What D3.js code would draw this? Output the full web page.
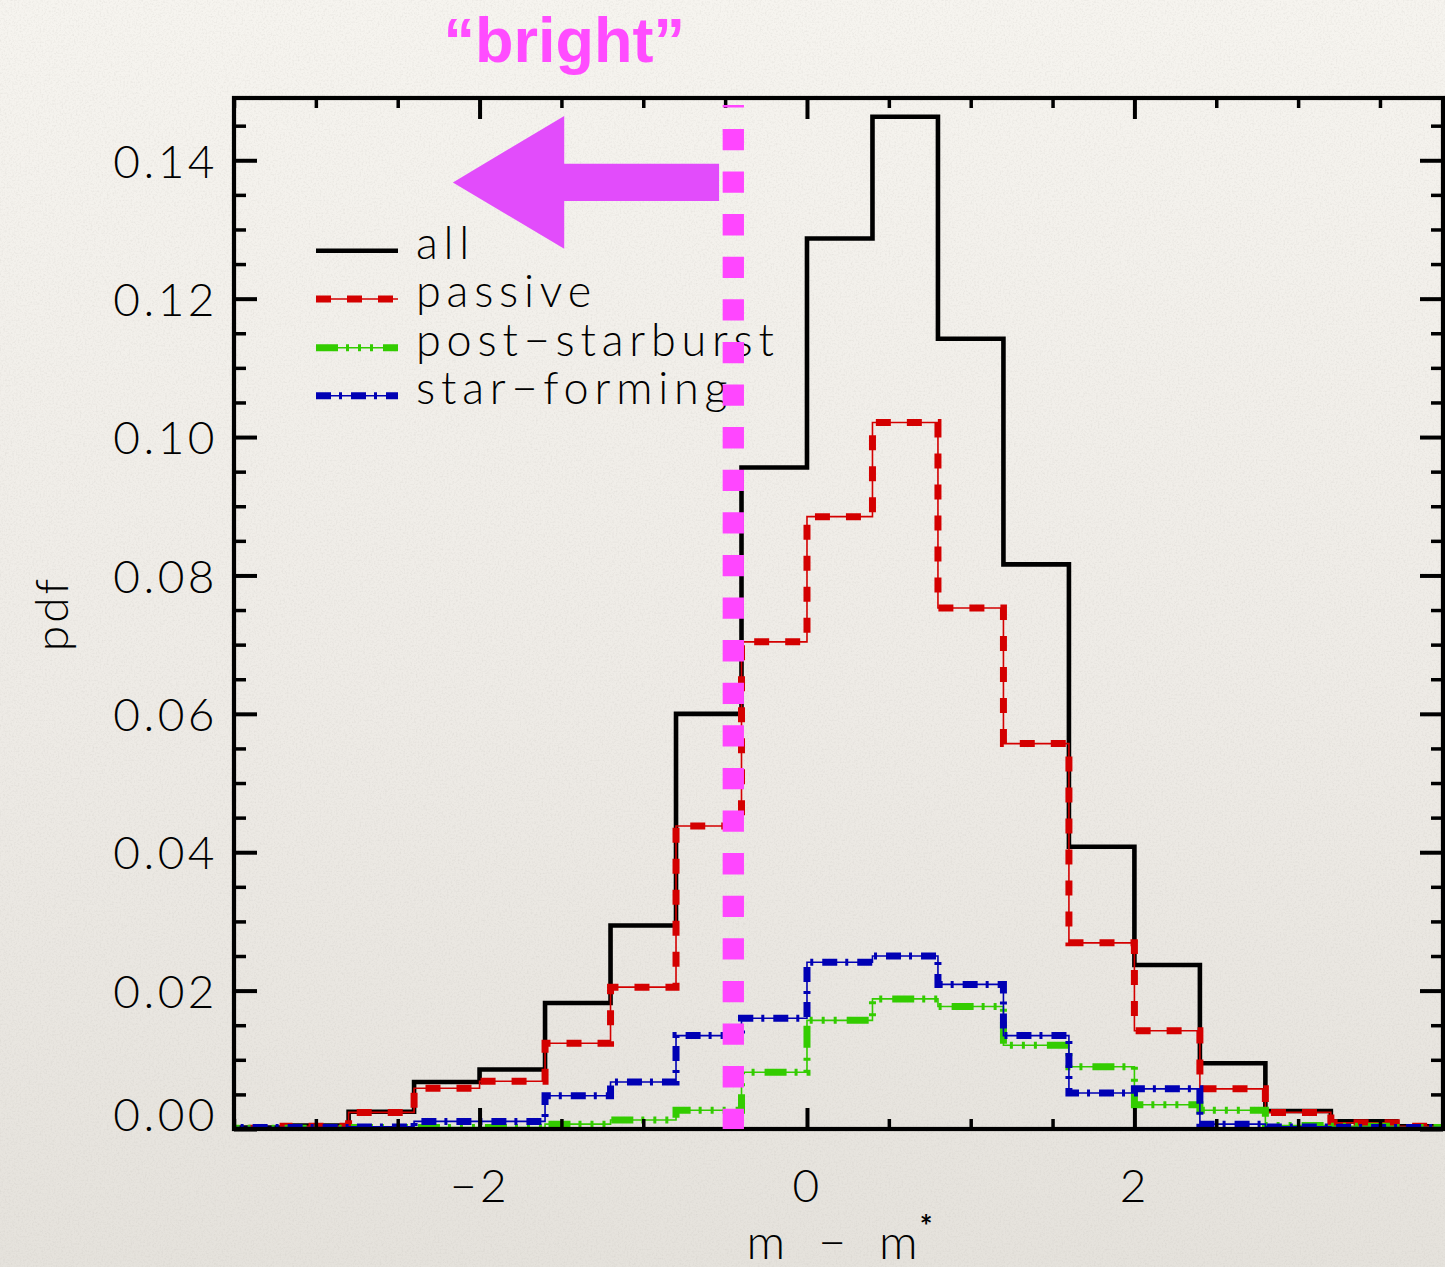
<!DOCTYPE html>
<html>
<head>
<meta charset="utf-8">
<script src="https://cdn.jsdelivr.net/npm/d3@7"></script>
<style>
  html, body { margin: 0; padding: 0; background: #efece7; }
  svg { display: block; }
</style>
</head>
<body>
<svg id="chart" width="1445" height="1267"></svg>
<script>
// Histogram bins: left edges of 0.4-mag bins in m - m*
const binEdges = [-3.6, -3.2, -2.8, -2.4, -2.0, -1.6, -1.2, -0.8, -0.4, 0.0, 0.4, 0.8, 1.2, 1.6, 2.0, 2.4, 2.8, 3.2, 3.6, 4.0];

// pdf per bin for each galaxy class
const allPdf       = [0.0002, 0.0005, 0.0025, 0.0068, 0.0086, 0.0182, 0.0294, 0.0600, 0.0956, 0.1287, 0.1463, 0.1142, 0.0816, 0.0408, 0.0237, 0.0095, 0.0026, 0.0011, 0.0004];
const passivePdf   = [0.0001, 0.0004, 0.0024, 0.0059, 0.0069, 0.0124, 0.0205, 0.0438, 0.0704, 0.0885, 0.1021, 0.0753, 0.0557, 0.0269, 0.0142, 0.0058, 0.0024, 0.0009, 0.0004];
const postSbPdf    = [0.0001, 0.0001, 0.0002, 0.0002, 0.0002, 0.0007, 0.0013, 0.0027, 0.0082, 0.0157, 0.0188, 0.0177, 0.0121, 0.0090, 0.0035, 0.0027, 0.0005, 0.0004, 0.0002];
const starFormPdf  = [0.0002, 0.0002, 0.0003, 0.0011, 0.0011, 0.0048, 0.0068, 0.0135, 0.0160, 0.0241, 0.0250, 0.0209, 0.0135, 0.0052, 0.0058, 0.0007, 0.0003, 0.0002, 0.0002];

const seriesNames = ["all", "passive", "post\u2212starburst", "star\u2212forming"];

// Axis ticks
const xMajorTicks = [-2, 0, 2];
const xMinorTicks = [-3.5, -3, -2.5, -1.5, -1, -0.5, 0.5, 1, 1.5, 2.5, 3, 3.5];
const yMajorTicks = [0, 0.02, 0.04, 0.06, 0.08, 0.10, 0.12, 0.14];
const yMinorTicks = [0.005, 0.01, 0.015, 0.025, 0.03, 0.035, 0.045, 0.05, 0.055, 0.065, 0.07, 0.075,
                     0.085, 0.09, 0.095, 0.105, 0.11, 0.115, 0.125, 0.13, 0.135, 0.145];

// Magnitude cut marking the "bright" sample
const brightCut = -0.45;
// Arrow annotation in data units: tip, head base, tail
const arrowTipX = -2.163, arrowHeadX = -1.483, arrowTailX = -0.537;
const arrowY = 0.1368, arrowHeadHalf = 0.0096, arrowShaftHalf = 0.0027;

const W = 1445, H = 1267;
const plot = { left: 234, right: 1443, top: 98, bottom: 1129 };
const FONT = "Lato, 'Open Sans', 'DejaVu Sans', sans-serif";

const svg = d3.select("#chart");
const defs = svg.append("defs");

// paper background
const grad = defs.append("linearGradient").attr("id", "paper").attr("x1", 0).attr("y1", 0).attr("x2", 0).attr("y2", 1);
grad.append("stop").attr("offset", "0%").attr("stop-color", "#f6f4ef");
grad.append("stop").attr("offset", "55%").attr("stop-color", "#eeebe6");
grad.append("stop").attr("offset", "100%").attr("stop-color", "#e5e2dc");
const grain = defs.append("filter").attr("id", "grain").attr("x", 0).attr("y", 0).attr("width", 1).attr("height", 1);
grain.append("feTurbulence").attr("type", "fractalNoise").attr("baseFrequency", 0.55).attr("numOctaves", 3).attr("seed", 4);
grain.append("feColorMatrix").attr("type", "matrix")
  .attr("values", "0 0 0 0 0.45  0 0 0 0 0.43  0 0 0 0 0.40  0 0 0 -1.1 0.62");
svg.append("rect").attr("width", W).attr("height", H).attr("fill", "url(#paper)");
svg.append("rect").attr("width", W).attr("height", H).attr("filter", "url(#grain)").attr("opacity", 0.35);

defs.append("clipPath").attr("id", "plotClip").append("rect")
  .attr("x", plot.left).attr("y", plot.top)
  .attr("width", plot.right - plot.left).attr("height", plot.bottom - plot.top);

const x = d3.scaleLinear().domain([-3.5, 3.885]).range([plot.left, plot.right]);
const y = d3.scaleLinear().domain([0, 0.149]).range([plot.bottom, plot.top]);

// step line through bin edges
const stepLine = d3.line().x(d => x(d[0])).y(d => y(d[1])).curve(d3.curveStepAfter);
function stepPoints(vals) {
  const pts = vals.map((v, i) => [binEdges[i], v]);
  pts.push([binEdges[vals.length], vals[vals.length - 1]]);
  return pts;
}

const styles = [
  { vals: allPdf,      color: "#000000", width: 4.6, dash: null, thin: false },
  { vals: passivePdf,  color: "#d40000", width: 7, dash: "15,16", thin: true },
  { vals: postSbPdf,   color: "#33cc00", width: 7, dash: "22,8,3,9,3,9,3,10", thin: true },
  { vals: starFormPdf, color: "#0000b4", width: 7, dash: "15,8,3,9", thin: true }
];

const lines = svg.append("g").attr("clip-path", "url(#plotClip)");
styles.forEach(s => {
  const pts = stepPoints(s.vals);
  if (s.thin) {
    lines.append("path").attr("d", stepLine(pts)).attr("fill", "none")
      .attr("stroke", s.color).attr("stroke-width", 1.6);
  }
  lines.append("path").attr("d", stepLine(pts)).attr("fill", "none")
    .attr("stroke", s.color).attr("stroke-width", s.width)
    .attr("stroke-dasharray", s.dash)
    .attr("stroke-linejoin", "miter").attr("stroke-linecap", "butt");
});

// arrow pointing to brighter magnitudes
const arrowPts = [
  [arrowTipX, arrowY],
  [arrowHeadX, arrowY + arrowHeadHalf],
  [arrowHeadX, arrowY + arrowShaftHalf],
  [arrowTailX, arrowY + arrowShaftHalf],
  [arrowTailX, arrowY - arrowShaftHalf],
  [arrowHeadX, arrowY - arrowShaftHalf],
  [arrowHeadX, arrowY - arrowHeadHalf]
];
svg.append("polygon")
  .attr("points", arrowPts.map(p => [x(p[0]), y(p[1])].join(",")).join(" "))
  .attr("fill", "#e24cfb");

svg.append("text")
  .attr("x", x(arrowHeadX)).attr("y", 62)
  .attr("text-anchor", "middle")
  .attr("font-family", "'Liberation Sans', Arial, Helvetica, sans-serif")
  .attr("font-weight", "bold").attr("font-size", 63)
  .attr("fill", "#ff4cff")
  .text("\u201Cbright\u201D");

// axes
function styleAxis(g) {
  g.select(".domain").remove();
  g.selectAll(".tick line").attr("stroke", "#000");
  g.selectAll("text").attr("font-family", FONT).attr("font-weight", 300)
    .attr("font-size", 46).attr("fill", "#000").attr("letter-spacing", 3.5);
}

const gLeft = svg.append("g").attr("transform", `translate(${plot.left},0)`)
  .call(d3.axisLeft(y).tickValues(yMajorTicks).tickSize(-23).tickPadding(16).tickFormat(d3.format(".2f")))
  .call(styleAxis);
gLeft.selectAll(".tick line").attr("stroke-width", 4);
gLeft.selectAll(".tick text").attr("dy", d => d === 0 ? "-0.0em" : "0.32em")
  .attr("y", d => d === 0 ? 1 : 2);
svg.append("g").attr("transform", `translate(${plot.left},0)`)
  .call(d3.axisLeft(y).tickValues(yMinorTicks).tickSize(-12).tickFormat(""))
  .call(styleAxis).selectAll(".tick line").attr("stroke-width", 3.5);

svg.append("g").attr("transform", `translate(${plot.right},0)`)
  .call(d3.axisRight(y).tickValues(yMajorTicks).tickSize(-23).tickFormat(""))
  .call(styleAxis).selectAll(".tick line").attr("stroke-width", 4);
svg.append("g").attr("transform", `translate(${plot.right},0)`)
  .call(d3.axisRight(y).tickValues(yMinorTicks).tickSize(-12).tickFormat(""))
  .call(styleAxis).selectAll(".tick line").attr("stroke-width", 3.5);

const gBottom = svg.append("g").attr("transform", `translate(0,${plot.bottom})`)
  .call(d3.axisBottom(x).tickValues(xMajorTicks).tickSize(-21).tickPadding(40).tickFormat(d3.format("d")))
  .call(styleAxis);
gBottom.selectAll(".tick line").attr("stroke-width", 4);
svg.append("g").attr("transform", `translate(0,${plot.bottom})`)
  .call(d3.axisBottom(x).tickValues(xMinorTicks).tickSize(-10).tickFormat(""))
  .call(styleAxis).selectAll(".tick line").attr("stroke-width", 3.5);

svg.append("g").attr("transform", `translate(0,${plot.top})`)
  .call(d3.axisTop(x).tickValues(xMajorTicks).tickSize(-21).tickFormat(""))
  .call(styleAxis).selectAll(".tick line").attr("stroke-width", 4);
svg.append("g").attr("transform", `translate(0,${plot.top})`)
  .call(d3.axisTop(x).tickValues(xMinorTicks).tickSize(-10).tickFormat(""))
  .call(styleAxis).selectAll(".tick line").attr("stroke-width", 3.5);

// frame
svg.append("rect")
  .attr("x", plot.left).attr("y", plot.top)
  .attr("width", plot.right - plot.left).attr("height", plot.bottom - plot.top)
  .attr("fill", "none").attr("stroke", "#000").attr("stroke-width", 4.2);

// axis titles
const xTitle = svg.append("text")
  .attr("x", (plot.left + plot.right) / 2 + 2).attr("y", 1259)
  .attr("text-anchor", "middle")
  .attr("font-family", FONT).attr("font-weight", 300).attr("font-size", 48)
  .attr("fill", "#000").attr("word-spacing", 16).attr("letter-spacing", 2);
xTitle.append("tspan").text("m \u2212 m");
xTitle.append("tspan").attr("dy", -22).attr("font-size", 30).attr("font-weight", 700).text("*");

svg.append("text")
  .attr("transform", `translate(68,${(plot.top + plot.bottom) / 2}) rotate(-90)`)
  .attr("text-anchor", "middle")
  .attr("font-family", FONT).attr("font-weight", 300).attr("font-size", 46)
  .attr("fill", "#000").attr("letter-spacing", 3)
  .text("pdf");

// legend
const legend = svg.append("g");
const legendY = [250.7, 299, 347.7, 395.7];
styles.forEach((s, i) => {
  const ly = legendY[i];
  if (s.thin) {
    legend.append("line").attr("x1", 316).attr("x2", 398).attr("y1", ly).attr("y2", ly)
      .attr("stroke", s.color).attr("stroke-width", 1.6);
  }
  legend.append("line").attr("x1", 316).attr("x2", 398).attr("y1", ly).attr("y2", ly)
    .attr("stroke", s.color).attr("stroke-width", s.width)
    .attr("stroke-dasharray", s.dash);
  legend.append("text").attr("x", 416).attr("y", ly + 8)
    .attr("font-family", FONT).attr("font-weight", 300).attr("font-size", 45)
    .attr("fill", "#000").attr("letter-spacing", 5.8)
    .text(seriesNames[i]);
});

// dotted magnitude cut, drawn above the legend text
svg.append("g").attr("clip-path", "url(#plotClip)").append("line")
  .attr("x1", x(brightCut)).attr("x2", x(brightCut))
  .attr("y1", y(0) + 1).attr("y2", y.range()[1] + 7)
  .attr("stroke", "#ff46ff").attr("stroke-width", 21.3)
  .attr("stroke-dasharray", "21.3,21.3");
</script>
</body>
</html>
